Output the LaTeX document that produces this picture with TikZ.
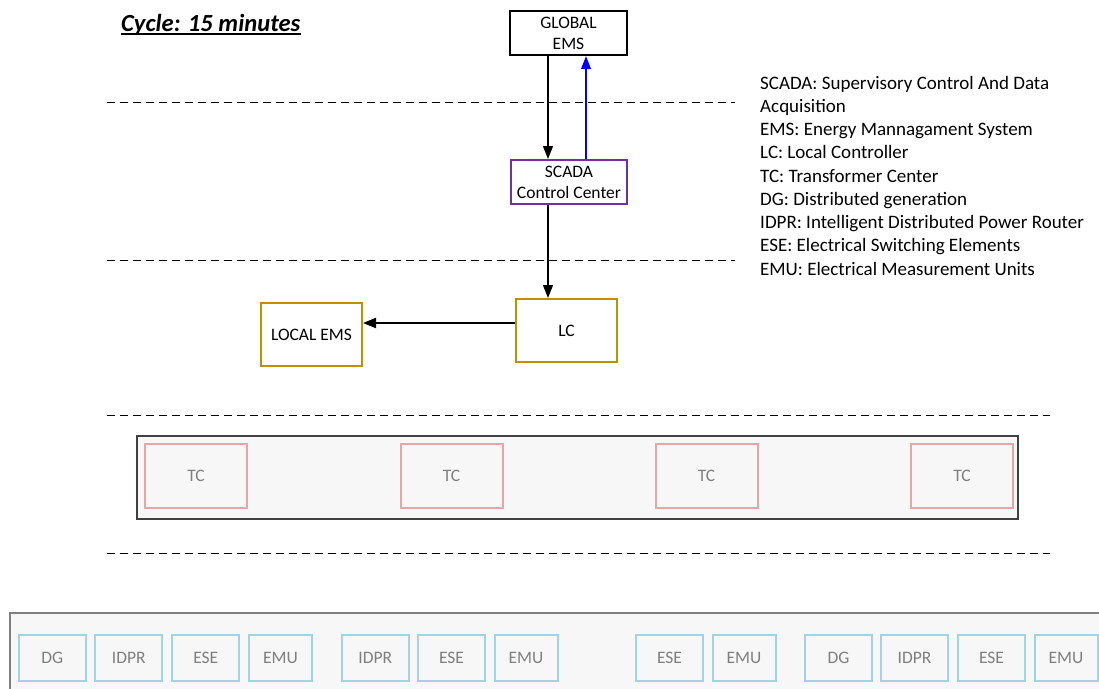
\documentclass[tikz,border=0pt]{standalone}
\usepackage{fontspec}
\setmainfont{Carlito}
\usetikzlibrary{arrows.meta}
\definecolor{scadapurple}{HTML}{7030A0}
\definecolor{lcgold}{HTML}{BF9000}
\definecolor{tcpink}{HTML}{E3A7A7}
\definecolor{devblue}{HTML}{A3D2E0}
\definecolor{panelfill}{HTML}{F7F7F7}
\definecolor{panelline}{HTML}{404040}
\definecolor{softtext}{HTML}{7F7F7F}
\newcommand{\boxfont}{\fontsize{17.5}{21}\selectfont}
\newcommand{\legfont}{\fontsize{19}{23.25}\selectfont}
\begin{document}
\begin{tikzpicture}[x=1pt,y=-1pt,
  box/.style={draw, line width=2pt, fill=white, inner sep=0pt, align=center, font=\boxfont},
  panel/.style={draw=panelline, line width=1.2pt, fill=panelfill, inner sep=0pt},
  tcbox/.style={draw=tcpink, line width=2pt, fill=panelfill, inner sep=0pt,
    minimum width=102pt, minimum height=64pt, text=softtext, font=\boxfont},
  devbox/.style={draw=devblue, line width=2pt, fill=panelfill, inner sep=0pt,
    minimum height=46pt, text=softtext, font=\boxfont},
  flow/.style={line width=1.3pt, -{Triangle[length=13pt,width=10pt]}},
  level/.style={line width=1pt, dash pattern=on 8pt off 5pt},
  legend/.style={anchor=base west, inner sep=0pt, font=\legfont}]
\useasboundingbox (0,0) rectangle (1099,688);
\clip (0,0) rectangle (1099,688);

% title
\node[anchor=base west, inner sep=0pt, font=\fontsize{24.6}{28}\selectfont\bfseries\itshape]
  (title) at (121,31.7) {Cycle: 15 minutes};
\draw[line width=1.6pt] ([yshift=-2pt]title.base west) -- ([yshift=-2pt]title.base east);

% level separators
\draw[level] (107,102) -- (735,102);
\draw[level] (107,260) -- (735,260);
\draw[level] (107,415) -- (1050,415);
\draw[level] (107,553) -- (1050,553);

% control hierarchy
\node[box, line width=2.4pt, minimum width=117pt, minimum height=44pt] (global) at (568.5,33) {GLOBAL\\EMS};
\node[box, draw=scadapurple, minimum width=116pt, minimum height=44pt] (scada) at (569,182) {SCADA\\Control Center};
\node[box, draw=lcgold, minimum width=101pt, minimum height=63pt] (lc) at (566.5,330.5) {LC};
\node[box, draw=lcgold, minimum width=101pt, minimum height=63pt] (localems) at (311.5,334.5) {LOCAL EMS};

\coordinate (down) at (548,0);
\coordinate (up) at (586,0);
\coordinate (side) at (0,323);
\draw[flow] (global.south -| down) -- (scada.north -| down);
\draw[flow, blue] (scada.north -| up) -- (global.south -| up);
\draw[flow] (scada.south -| down) -- (lc.north -| down);
\draw[flow, line width=2pt] (lc.west |- side) -- (localems.east |- side);

% transformer centres
\node[panel, minimum width=881pt, minimum height=83pt] (tcpanel) at (577.5,477.5) {};
\foreach \x [count=\i] in {196,451.5,706.5,962}
  \node[tcbox] (tc\i) at (\x,476) {TC};

% field devices
\node[panel, draw=softtext, minimum width=1110pt, minimum height=90pt] (devpanel) at (565,658) {};
\foreach \x/\w/\t [count=\i] in {
    52.3/67/DG, 128.8/67/IDPR, 205.8/67/ESE, 280.5/63/EMU,
    375.3/67/IDPR, 451.5/67/ESE, 526/63/EMU,
    669.5/67/ESE, 744/63/EMU,
    838.5/67/DG, 914.5/67/IDPR, 991.5/67/ESE, 1066/63/EMU}
  \node[devbox, minimum width=\w pt] (dev\i) at (\x,658) {\t};

% abbreviations
\foreach \t [count=\i] in {
    {SCADA: Supervisory Control And Data},
    {Acquisition},
    {EMS: Energy Mannagament System},
    {LC: Local Controller},
    {TC: Transformer Center},
    {DG: Distributed generation},
    {IDPR: Intelligent Distributed Power Router},
    {ESE: Electrical Switching Elements},
    {EMU: Electrical Measurement Units}}
  \node[legend] (leg\i) at (760,{89+23.25*(\i-1)}) {\t};
\end{tikzpicture}
\end{document}
